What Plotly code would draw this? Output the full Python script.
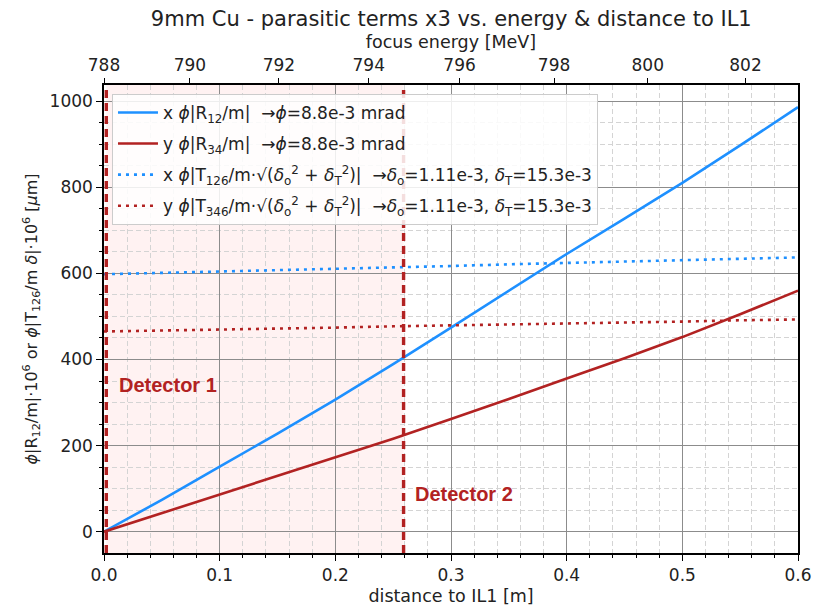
import plotly.graph_objects as go

# ---- data ----
distance = [0, 0.05, 0.1, 0.15, 0.2, 0.25, 0.3, 0.35, 0.4, 0.45, 0.5, 0.55, 0.6]
x_R12 = [0, 74, 151, 228, 307, 389, 474, 559, 645, 727, 810, 897, 986]
y_R34 = [0, 43, 86, 129, 172, 216, 262, 308, 356, 403, 452, 505, 560]
x_T126 = [598, 601, 604, 608, 611, 614, 617, 621, 624, 627, 630, 634, 637]
y_T346 = [465, 467, 470, 472, 474, 477, 479, 481, 484, 486, 488, 491, 493]

energy_ticks = [788, 790, 792, 794, 796, 798, 800, 802]
energy_tick_dist = [0.0, 0.0743, 0.1512, 0.2289, 0.3074, 0.3891, 0.4701, 0.5546]

detector_pos = [0.002, 0.259]
detector_labels = ["Detector 1", "Detector 2"]
detector_label_xy = [(0.011, 340), (0.267, 88)]

BLUE = "#1E90FF"
RED = "#B22222"
FONT = "DejaVu Sans"
TXT = "#222"

fig = go.Figure()
names = [
    "x <i>ϕ</i>|R<sub>12</sub>/m|  →<i>ϕ</i>=8.8e-3 mrad",
    "y <i>ϕ</i>|R<sub>34</sub>/m|  →<i>ϕ</i>=8.8e-3 mrad",
    "x <i>ϕ</i>|T<sub>126</sub>/m·√(<i>δ</i><sub>o</sub><sup>2</sup> + <i>δ</i><sub>T</sub><sup>2</sup>)|  →<i>δ</i><sub>o</sub>=1.11e-3, <i>δ</i><sub>T</sub>=15.3e-3",
    "y <i>ϕ</i>|T<sub>346</sub>/m·√(<i>δ</i><sub>o</sub><sup>2</sup> + <i>δ</i><sub>T</sub><sup>2</sup>)|  →<i>δ</i><sub>o</sub>=1.11e-3, <i>δ</i><sub>T</sub>=15.3e-3",
]
series = [x_R12, y_R34, x_T126, y_T346]
colors = [BLUE, RED, BLUE, RED]
dashes = ["solid", "solid", "3px,5px", "3px,5px"]
for i, (nm, ys, c, d) in enumerate(zip(names, series, colors, dashes)):
    fig.add_trace(go.Scatter(x=distance, y=ys, mode="lines", name=nm,
                             legendgroup=f"g{i}",
                             line=dict(color=c, width=2.6, dash=d)))

# invisible trace to hold top axis
fig.add_trace(go.Scatter(x=[0, 0.6], y=[None, None], xaxis="x2", yaxis="y",
                         showlegend=False, hoverinfo="skip", mode="lines"))

# shaded detector region
fig.add_shape(type="rect", xref="x", yref="paper", x0=detector_pos[0], x1=detector_pos[1],
              y0=0, y1=1, fillcolor="rgba(250,90,90,0.08)", line_width=0, layer="below")
for xp in detector_pos:
    fig.add_shape(type="line", xref="x", yref="paper", x0=xp, x1=xp, y0=0, y1=1,
                  line=dict(color=RED, width=3.4, dash="8px,5px"))
for lab, (lx, ly) in zip(detector_labels, detector_label_xy):
    fig.add_annotation(x=lx, y=ly, xref="x", yref="y", text=f"<b>{lab}</b>",
                       showarrow=False, xanchor="left", yanchor="middle",
                       font=dict(family="Liberation Sans", size=20, color=RED))

axis_common = dict(showline=True, linecolor="black", linewidth=1.5, mirror=True,
                   ticks="outside", ticklen=6, tickwidth=1.2, tickcolor="black",
                   zeroline=False, automargin=False,
                   tickfont=dict(family=FONT, size=17, color=TXT))

fig.update_layout(
    width=825, height=606,
    margin=dict(l=104, r=27, t=85, b=53),
    paper_bgcolor="white", plot_bgcolor="white",
    title=dict(text="9mm Cu - parasitic terms x3 vs. energy & distance to IL1",
               x=0.547, xanchor="center", y=0.97, yanchor="middle",
               font=dict(family=FONT, size=21, color=TXT)),
    xaxis=dict(range=[0, 0.6], dtick=0.1, tick0=0, tickformat=".1f",
               showgrid=True, gridcolor="#8c8c8c", gridwidth=1.2,
               minor=dict(dtick=0.02, ticks="outside", ticklen=3, tickcolor="black",
                          showgrid=True, gridcolor="#d4d4d4", griddash="5px,3px", gridwidth=1),
               title=dict(text="distance to IL1 [m]", font=dict(family=FONT, size=17.5, color=TXT),
                          standoff=6),
               **axis_common),
    xaxis2=dict(overlaying="x", side="top", range=[0, 0.6], automargin=False,
                tickmode="array", tickvals=energy_tick_dist,
                ticktext=[str(e) for e in energy_ticks],
                showgrid=False, showline=False, ticks="outside", ticklen=6,
                tickcolor="black", tickwidth=1.2,
                tickfont=dict(family=FONT, size=17, color=TXT),
                title=dict(text="focus energy [MeV]", font=dict(family=FONT, size=17.5, color=TXT),
                           standoff=2)),
    yaxis=dict(range=[-49.4, 1037.4], dtick=200, tick0=0,
               showgrid=True, gridcolor="#8c8c8c", gridwidth=1.2,
               minor=dict(dtick=50, ticks="outside", ticklen=3, tickcolor="black",
                          showgrid=True, gridcolor="#d4d4d4", griddash="5px,3px", gridwidth=1),
               title=dict(text="<i>ϕ</i>|R<sub>12</sub>/m|·10<sup>6</sup> or <i>ϕ</i>|T<sub>126</sub>/m <i>δ</i>|·10<sup>6</sup> [<i>μ</i>m]",
                          font=dict(family=FONT, size=16, color=TXT), standoff=8),
               **axis_common),
    legend=dict(x=0.0115, y=0.981, xanchor="left", yanchor="top",
                bgcolor="rgba(255,255,255,0.85)", bordercolor="#cccccc", borderwidth=1,
                font=dict(family=FONT, size=17, color=TXT), itemwidth=40,
                tracegroupgap=6),
    showlegend=True,
)

fig.write_html("out.html")
